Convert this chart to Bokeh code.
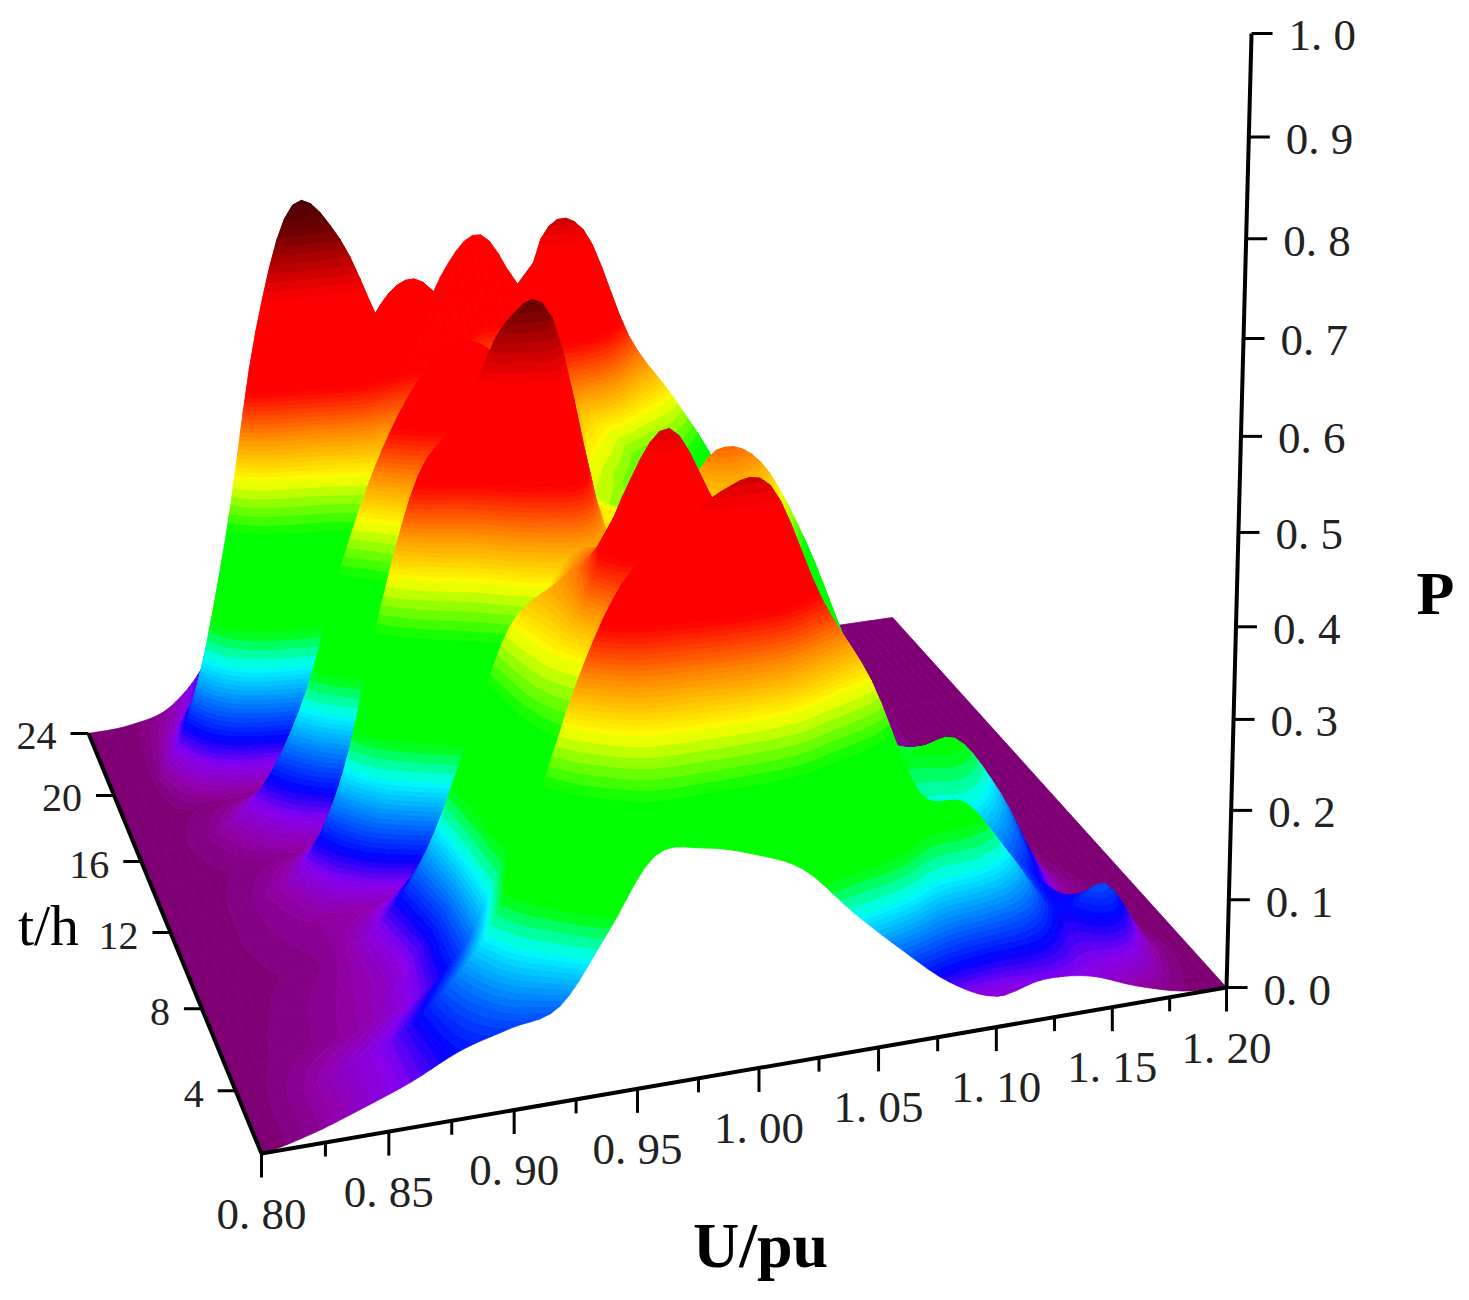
from bokeh.core.properties import value
from bokeh.embed import file_html
from bokeh.models import ColumnDataSource, Range1d
from bokeh.plotting import figure
from bokeh.resources import INLINE

import numpy as np


U_VALUES = [0.80, 0.82, 0.84, 0.86, 0.88, 0.90, 0.92, 0.94, 0.96, 0.98, 1.00,
            1.02, 1.04, 1.06, 1.08, 1.10, 1.12, 1.14, 1.16, 1.18, 1.20]
T_VALUES = [0, 2, 4, 6, 8, 10, 12, 14, 16, 18, 20, 22, 24]

# P, one list per hour
P_T00 = [0, .012, .03, .05, .075, .09, .105, .175, .25, .25, .235, .21, .155, .105, .06, .035, .045, .04, .02, .005, 0]
P_T02 = [0, .012, .03, .05, .09, .15, .26, .40, .50, .54, .58, .58, .455, .36, .23, .21, .14, .07, .095, .02, 0]
P_T04 = [0, .006, .012, .025, .05, .10, .20, .28, .32, .34, .36, .40, .36, .30, .16, .13, .12, .08, .02, .005, 0]
P_T06 = [0, .004, .01, .02, .04, .10, .22, .33, .40, .52, .585, .49, .42, .33, .20, .19, .20, .13, .03, .005, 0]
P_T08 = [0, .003, .006, .015, .05, .12, .24, .36, .40, .43, .43, .38, .36, .30, .22, .17, .13, .06, .015, 0, 0]
P_T10 = [0, .003, .01, .015, .02, .05, .13, .24, .34, .40, .36, .36, .36, .33, .26, .18, .08, .04, .01, 0, 0]
P_T12 = [0, .003, .012, .04, .14, .32, .47, .53, .625, .625, .38, .36, .36, .36, .32, .24, .12, .04, .008, 0, 0]
P_T14 = [0, .003, .006, .012, .02, .05, .20, .30, .40, .42, .38, .36, .36, .42, .40, .30, .16, .04, .005, 0, 0]
P_T16 = [0, .004, .02, .07, .17, .32, .44, .52, .55, .50, .38, .34, .32, .33, .34, .27, .15, .03, .003, 0, 0]
P_T18 = [0, .003, .006, .01, .02, .06, .16, .22, .30, .34, .36, .36, .32, .27, .26, .22, .12, .03, .005, 0, 0]
P_T20 = [0, .006, .10, .29, .53, .67, .625, .50, .46, .46, .44, .40, .36, .30, .27, .20, .10, .02, 0, 0, 0]
P_T22 = [0, .005, .04, .10, .20, .30, .38, .50, .54, .48, .40, .57, .575, .44, .36, .27, .14, .03, 0, 0, 0]
P_T24 = [0, .003, .02, .08, .20, .30, .33, .36, .40, .51, .555, .47, .40, .34, .28, .20, .10, .02, 0, 0, 0]
P_ROWS = [P_T00, P_T02, P_T04, P_T06, P_T08, P_T10, P_T12, P_T14, P_T16, P_T18, P_T20, P_T22, P_T24]

U_TICKS = [0.80, 0.85, 0.90, 0.95, 1.00, 1.05, 1.10, 1.15, 1.20]
U_LABELS = ["0. 80", "0. 85", "0. 90", "0. 95", "1. 00", "1. 05", "1. 10", "1. 15", "1. 20"]
T_TICKS = [4, 8, 12, 16, 20, 24]
P_TICKS = [0.0, 0.1, 0.2, 0.3, 0.4, 0.5, 0.6, 0.7, 0.8, 0.9, 1.0]
P_LABELS = ["0. 0", "0. 1", "0. 2", "0. 3", "0. 4", "0. 5", "0. 6", "0. 7", "0. 8", "0. 9", "1. 0"]

# colour ramp of the surface
RAMP_P = [0, .02, .045, .07, .105, .15, .175, .19, .30, .36, .41, .46, .565, .60, .64, .68]
RAMP_R = [125, 145, 135, 0, 0, 0, 0, 0, 0, 255, 255, 255, 255, 190, 110, 70]
RAMP_G = [0, 0, 0, 0, 110, 255, 255, 255, 255, 255, 140, 0, 0, 0, 0, 0]
RAMP_B = [110, 170, 240, 255, 255, 255, 100, 0, 0, 0, 0, 0, 0, 0, 0, 0]
BANDS = list(np.arange(0, .15, .005)) + list(np.arange(.15, .19, .01)) + list(np.arange(.30, .36, .01)) \
    + list(np.arange(.36, .46, .005)) + list(np.arange(.46, .565, .105)) + list(np.arange(.565, .69, .01)) + [1.2]

FONT = value("Liberation Serif")

# perspective camera, fitted on the axis corners of the box (maps to picture pixels)
CAM = np.array([[1043.5, -153.0, -90.5, 261.0],
                [-102.8, -253.8, -1018.2, 1153.0],
                [0.064, 0.2268, -0.0936, 1.0]])

# the t ticks run a little wider than the surface edge in the picture
T_TICK_STRETCH = 1.05


def project(u_val, t_val, p_val):
    """ (U, t, P) to picture pixels """
    pts = np.stack([(np.asarray(u_val, float) - 0.8) / 0.4,
                    np.asarray(t_val, float) / 24.0,
                    np.asarray(p_val, float),
                    np.ones_like(np.asarray(p_val, float))])
    out = np.tensordot(CAM, pts, axes=(1, 0))
    return out[0] / out[2], out[1] / out[2]


def smooth_row(vals, n):
    """ Catmull-Rom through a row so the ridge outlines stay round """
    vals = np.asarray(vals, float)
    pad = np.concatenate([[vals[0]], vals, [vals[-1]]])
    out = []
    for i in range(len(vals) - 1):
        p0, p1, p2, p3 = pad[i:i + 4]
        for s in np.arange(n) / n:
            out.append(0.5 * (2 * p1 + (p2 - p0) * s + (2 * p0 - 5 * p1 + 4 * p2 - p3) * s ** 2
                              + (3 * p1 - p0 - 3 * p2 + p3) * s ** 3))
    out.append(vals[-1])
    return np.clip(out, 0, None)


def clip_level(poly, level, keep_above):
    """ Cut a polygon of (x, y, z) corners on one P level """
    out = []
    for k, a in enumerate(poly):
        b = poly[(k + 1) % len(poly)]
        a_in = a[2] >= level if keep_above else a[2] <= level
        b_in = b[2] >= level if keep_above else b[2] <= level
        if a_in:
            out.append(a)
        if a_in != b_in:
            f = (level - a[2]) / (b[2] - a[2])
            out.append((a[0] + f * (b[0] - a[0]), a[1] + f * (b[1] - a[1]), level))
    return out


def band_color(lo, hi):
    mid = 0.5 * (lo + hi)
    return "#%02x%02x%02x" % (int(np.interp(mid, RAMP_P, RAMP_R)),
                              int(np.interp(mid, RAMP_P, RAMP_G)),
                              int(np.interp(mid, RAMP_P, RAMP_B)))


def surface_source(u_sub=5):
    u_fine = np.linspace(U_VALUES[0], U_VALUES[-1], (len(U_VALUES) - 1) * u_sub + 1)
    grid = np.array([smooth_row(r, u_sub) for r in P_ROWS])
    uu, tt = np.meshgrid(u_fine, T_VALUES)
    x, y = project(uu, tt, grid)

    xs, ys, colors = [], [], []
    # far corner first, the camera stands in front of the low U, low t corner
    for i in range(len(T_VALUES) - 2, -1, -1):
        for j in range(len(u_fine) - 2, -1, -1):
            quad = [(x[i, j], y[i, j], grid[i, j]), (x[i, j + 1], y[i, j + 1], grid[i, j + 1]),
                    (x[i + 1, j + 1], y[i + 1, j + 1], grid[i + 1, j + 1]),
                    (x[i + 1, j], y[i + 1, j], grid[i + 1, j])]
            zs = [c[2] for c in quad]
            for lo, hi in zip(BANDS[:-1], BANDS[1:]):
                if hi < min(zs) or lo > max(zs):
                    continue
                piece = clip_level(clip_level(quad, lo, True), hi, False)
                if len(piece) < 3:
                    continue
                xs.append([c[0] for c in piece])
                ys.append([c[1] for c in piece])
                colors.append(band_color(lo, hi))
    return ColumnDataSource(dict(xs=xs, ys=ys, c=colors))


p = figure(width=1453, height=1284, x_range=Range1d(0, 1453), y_range=Range1d(1284, 0),
           output_backend="svg", toolbar_location=None, min_border=0)
p.axis.visible = False
p.grid.visible = False
p.outline_line_color = None

p.patches("xs", "ys", source=surface_source(), fill_color="c", line_color="c", line_width=0.8)

# U axis
ax_x, ax_y = project([0.8, 1.2], [0, 0], [0, 0])
p.line(ax_x, ax_y, line_color="black", line_width=4)
tx, ty = project(U_TICKS, np.zeros(len(U_TICKS)), np.zeros(len(U_TICKS)))
p.segment(tx, ty, tx, ty + 24, line_color="black", line_width=3)
minor = np.array(U_TICKS[:-1]) + 0.025
mx, my = project(minor, np.zeros(len(minor)), np.zeros(len(minor)))
p.segment(mx, my, mx, my + 14, line_color="black", line_width=3)
p.text(tx, ty + 60, text=U_LABELS, text_font=FONT, text_font_size="45px", text_color="#222222",
       text_align="center", text_baseline="middle")

# t axis
ax_x, ax_y = project([0.8, 0.8], [0, 24], [0, 0])
p.line(ax_x, ax_y, line_color="black", line_width=4)
tick_t = 24 - (24 - np.array(T_TICKS)) * T_TICK_STRETCH
tx, ty = project(np.full(len(T_TICKS), 0.8), tick_t, np.zeros(len(T_TICKS)))
p.segment(tx - 18, ty, tx, ty, line_color="black", line_width=3)
p.text(tx - 32, ty + 3, text=[str(t) for t in T_TICKS], text_font=FONT, text_font_size="40px",
       text_color="#222222", text_align="right", text_baseline="middle")

# P axis
n_p = len(P_TICKS)
ax_x, ax_y = project([1.2, 1.2], [0, 0], [0, 1])
p.line(ax_x, ax_y, line_color="black", line_width=4)
tx, ty = project(np.full(n_p, 1.2), np.zeros(n_p), P_TICKS)
p.segment(tx, ty, tx + 21, ty, line_color="black", line_width=3)
p.text(tx + 37, ty + 2, text=P_LABELS, text_font=FONT, text_font_size="45px", text_color="#222222",
       text_align="left", text_baseline="middle")

# axis titles
p.text([48], [925], text=["t/h"], text_font=FONT, text_font_size="58px", text_color="black",
       text_align="center", text_baseline="middle")
p.text([760], [1245], text=["U/pu"], text_font=FONT, text_font_size="64px", text_font_style="bold",
       text_color="black", text_align="center", text_baseline="middle")
p.text([1435], [592], text=["P"], text_font=FONT, text_font_size="62px", text_font_style="bold",
       text_color="black", text_align="center", text_baseline="middle")

open("out.html", "w").write(file_html(p, INLINE))
